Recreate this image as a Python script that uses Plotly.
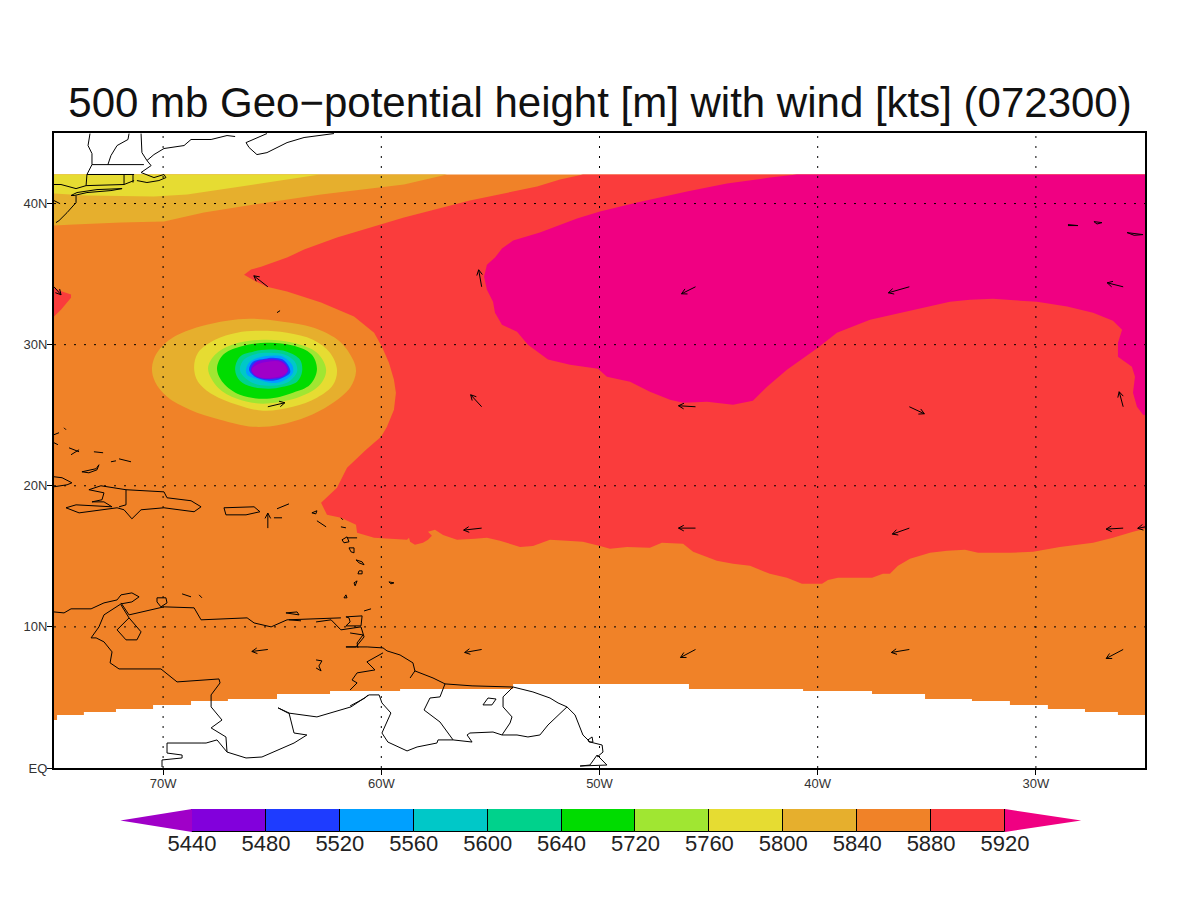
import math
import plotly.graph_objects as go

TITLE = "500 mb Geo\u2212potential height [m] with wind [kts] (072300)"
LON_TICKS = [-70, -60, -50, -40, -30]
LON_LABELS = ["70W", "60W", "50W", "40W", "30W"]
LAT_TICKS = [0, 10, 20, 30, 40]
LAT_LABELS = ["EQ", "10N", "20N", "30N", "40N"]
LEVELS = [5440, 5480, 5520, 5560, 5600, 5640, 5720, 5760, 5800, 5840, 5880, 5920]
BAR_COLORS = ["#8200dc", "#1e3cff", "#00a0ff", "#00c8c8", "#00d28c", "#00dc00",
              "#a0e632", "#e6dc32", "#e6af2d", "#f08228", "#fa3c3c"]
LOW_COLOR = "#a000c8"
HIGH_COLOR = "#f00082"

DATA_TOP = 42.06
EDGE_LON = [-75, -74.86, -73.63, -72.16, -70.46, -68.72, -67.03, -64.78, -62.35, -59.14, -53.96,
            -45.90, -40.67, -37.51, -35.08, -32.93, -31.19, -29.45, -27.75, -26.24, -25]
EDGE_LAT = [3.40, 3.76, 3.97, 4.18, 4.47, 4.75, 4.89, 5.25, 5.46, 5.60, 5.96,
            5.60, 5.46, 5.25, 4.89, 4.75, 4.47, 4.18, 3.97, 3.76]

YELLOW_N = [(-75, 42.06), (-62.81, 42.06), (-64.32, 41.70), (-67.35, 40.99), (-68.9, 40.64),
            (-70.42, 40.50), (-73.49, 40.57), (-75, 40.71)]
GOLD_N = [(-75, 42.06), (-56.99, 42.06), (-58.96, 41.35), (-62.76, 40.64), (-65.83, 39.93),
          (-68.13, 39.36), (-69.96, 38.72), (-71.93, 38.65), (-74.08, 38.51), (-75, 38.44)]
RED_MAIN = [(-50.76, 42.06), (-51.81, 41.70), (-52.86, 41.21), (-53.96, 40.85), (-55.94, 40.21),
            (-58.96, 39.01), (-60.01, 38.51), (-62.03, 37.59), (-63.54, 36.74), (-64.32, 36.17),
            (-65.51, 35.53), (-65.97, 35.32), (-66.29, 34.96), (-65.83, 34.54), (-65.24, 34.11),
            (-64.32, 33.76), (-62.76, 32.98), (-61.25, 31.99), (-60.33, 30.85), (-59.97, 29.86),
            (-59.65, 28.72), (-59.42, 27.52), (-59.33, 26.60), (-59.42, 25.39), (-59.74, 24.18),
            (-60.01, 23.48), (-60.70, 22.55), (-61.57, 21.28), (-62.03, 19.86), (-62.76, 18.79),
            (-62.49, 17.94), (-61.85, 17.73), (-61.16, 17.23), (-61.11, 16.67), (-60.33, 16.31),
            (-58.96, 16.17), (-58.82, 16.17), (-58.73, 16.31), (-58.68, 16.03), (-58.46, 15.82),
            (-58.09, 15.96), (-57.86, 16.17), (-57.68, 16.45), (-57.86, 16.74), (-57.54, 16.88),
            (-57.17, 16.52), (-56.53, 16.17), (-55.71, 16.24), (-55.16, 16.31), (-54.56, 16.10),
            (-53.64, 15.67), (-53.05, 15.74), (-52.27, 16.17), (-51.49, 16.10), (-50.76, 16.03),
            (-49.98, 15.74), (-49.52, 15.53), (-48.74, 15.67), (-47.69, 15.60), (-47.14, 15.96),
            (-46.17, 15.89), (-45.71, 15.32), (-44.62, 14.68), (-43.88, 14.47), (-43.10, 14.33),
            (-42.19, 13.76), (-41.41, 13.48), (-40.72, 13.05), (-39.80, 13.05), (-39.53, 13.33),
            (-39.07, 13.48), (-37.51, 13.48), (-37.01, 13.76), (-36.69, 13.76), (-36.32, 14.33),
            (-35.77, 14.82), (-34.85, 15.25), (-34.07, 15.39), (-33.25, 15.46), (-32.65, 15.25),
            (-31.19, 15.25), (-30.13, 15.32), (-28.90, 15.67), (-27.38, 15.96), (-26.47, 16.31),
            (-25.55, 16.74), (-25, 16.95), (-25, 42.06)]
RED_WEST = [(-75, 34.04), (-74.63, 33.76), (-74.22, 33.55), (-74.22, 33.33), (-74.68, 32.48), (-75, 31.99)]
MAGENTA = [(-40.95, 42.06), (-42.19, 41.84), (-44.16, 41.42), (-45.99, 40.85), (-48.28, 40.07),
           (-49.98, 39.43), (-51.03, 38.94), (-52.73, 37.94), (-53.96, 37.38), (-54.47, 36.81),
           (-54.79, 36.17), (-55.16, 35.67), (-55.29, 34.82), (-55.16, 33.90), (-54.88, 33.05),
           (-54.79, 32.27), (-54.47, 31.42), (-53.78, 30.92), (-53.28, 30.00), (-52.36, 28.94),
           (-51.35, 28.58), (-50.07, 28.30), (-49.66, 27.73), (-48.60, 27.38), (-47.69, 26.67),
           (-46.77, 26.10), (-46.17, 25.89), (-45.07, 25.96), (-43.88, 25.74), (-42.97, 26.03),
           (-42.32, 27.02), (-41.41, 28.23), (-39.99, 29.79), (-39.12, 30.85), (-37.60, 31.77),
           (-33.94, 33.05), (-33.02, 33.19), (-31.97, 33.26), (-30.73, 33.12), (-29.95, 33.05),
           (-28.57, 32.70), (-27.38, 32.27), (-26.47, 31.70), (-26.05, 31.06), (-26.24, 30.14),
           (-26.24, 29.15), (-25.60, 28.44), (-25.46, 27.73), (-25.55, 26.60), (-25.37, 25.60),
           (-25.09, 25.04), (-25, 25.0), (-25, 42.06)]
CYCLONE = [
    ("#e6af2d", [(-70.51, 28.37), (-70.28, 29.43), (-69.55, 30.50), (-68.31, 31.28), (-67.07, 31.70),
                 (-66.02, 31.84), (-64.51, 31.63), (-63.13, 31.21), (-61.89, 30.21), (-61.30, 28.94),
                 (-61.16, 28.09), (-61.43, 26.95), (-62.35, 25.74), (-63.41, 24.89), (-64.64, 24.33),
                 (-65.88, 24.18), (-67.39, 24.68), (-68.77, 25.39), (-69.82, 26.31), (-70.37, 27.38)]),
    ("#e6dc32", [(-68.58, 28.37), (-68.40, 29.43), (-67.62, 30.35), (-66.61, 30.85), (-65.56, 30.99),
                 (-64.32, 30.85), (-63.13, 30.35), (-62.35, 29.43), (-62.03, 28.23), (-62.21, 27.16),
                 (-62.95, 26.24), (-64.05, 25.60), (-65.42, 25.32), (-66.61, 25.74), (-67.71, 26.45),
                 (-68.40, 27.38)]),
    ("#a0e632", [(-67.94, 28.30), (-67.62, 29.29), (-66.84, 30.00), (-65.42, 30.35), (-64.05, 30.14),
                 (-62.95, 29.43), (-62.53, 28.23), (-62.81, 27.16), (-63.73, 26.31), (-65.42, 25.82),
                 (-66.61, 26.17), (-67.48, 26.95)]),
    ("#00dc00", [(-67.53, 28.30), (-67.25, 29.29), (-66.48, 29.86), (-65.24, 30.14), (-63.86, 29.86),
                 (-63.18, 29.29), (-62.95, 28.23), (-63.27, 27.16), (-64.05, 26.60), (-65.24, 26.17),
                 (-66.48, 26.45), (-67.25, 27.30)]),
    ("#00d28c", [(-66.70, 28.23), (-66.48, 29.15), (-65.88, 29.50), (-65.15, 29.65), (-64.32, 29.50),
                 (-63.73, 28.94), (-63.63, 28.09), (-63.86, 27.38), (-64.51, 27.02), (-65.15, 26.88),
                 (-65.93, 27.02), (-66.48, 27.45)]),
    ("#00c8c8", [(-66.48, 28.23), (-66.29, 28.94), (-65.70, 29.36), (-65.10, 29.43), (-64.41, 29.29),
                 (-63.96, 28.79), (-63.86, 28.09), (-64.18, 27.45), (-64.64, 27.16), (-65.19, 27.09),
                 (-65.79, 27.23), (-66.25, 27.66)]),
    ("#00a0ff", [(-66.20, 28.23), (-66.02, 28.79), (-65.47, 29.15), (-65.01, 29.22), (-64.51, 29.15),
                 (-64.09, 28.58), (-64.05, 28.01), (-64.32, 27.59), (-64.78, 27.30), (-65.33, 27.38),
                 (-65.88, 27.66), (-66.15, 27.87)]),
    ("#1e3cff", [(-66.06, 28.23), (-65.88, 28.79), (-65.33, 29.01), (-64.96, 29.08), (-64.51, 28.94),
                 (-64.23, 28.44), (-64.18, 28.01), (-64.51, 27.66), (-64.96, 27.45), (-65.42, 27.52),
                 (-65.79, 27.73)]),
    ("#8200dc", [(-65.97, 28.23), (-65.79, 28.72), (-65.33, 28.94), (-64.87, 28.94), (-64.51, 28.79),
                 (-64.28, 28.37), (-64.28, 28.09), (-64.51, 27.73), (-64.96, 27.59), (-65.42, 27.59),
                 (-65.79, 27.80)]),
    ("#a000c8", [(-65.93, 28.23), (-65.70, 28.58), (-65.19, 28.79), (-64.64, 28.79), (-64.37, 28.44),
                 (-64.32, 28.09), (-64.55, 27.80), (-65.01, 27.66), (-65.47, 27.66), (-65.79, 27.87)]),
]

WIND_LON = [-75, -65.2, -55.4, -45.6, -35.8, -26,
            -65.2, -55.4, -45.6, -35.8, -26,
            -65.2, -55.4, -45.6, -35.8, -26, -24.6,
            -65.2, -55.4, -45.6, -35.8, -26]
WIND_LAT = [34.1, 34.1, 34.1, 34.1, 34.1, 34.1,
            25.6, 25.6, 25.6, 25.6, 25.6,
            17.0, 17.0, 17.0, 17.0, 17.0, 17.2,
            8.4, 8.4, 8.4, 8.4, 8.4]
WIND_U = [7, -14, -3, -14, -21, -16,
          17, -11, -17, 15, -4,
          0, -18, -17, -17, -17, -16,
          -16, -17, -15, -18, -17]
WIND_V = [-8, 11, 17, -7, -6, 4,
          4, 12, 1, -7, 15,
          15, -2, 0, -6, -1, -3,
          -2, -3, -8, -3, -9]

COAST_NE_US = [
    [(-73.35, 44.96), (-73.44, 44.11), (-73.26, 43.54), (-73.26, 42.76), (-73.49, 42.06), (-73.53, 41.27)],
    [(-73.26, 42.76), (-70.88, 42.76)],
    [(-71.56, 44.96), (-71.61, 44.54), (-72.11, 44.11), (-72.39, 43.40), (-72.53, 42.76)],
    [(-71.01, 44.96), (-70.97, 43.61), (-70.74, 43.05)],
    [(-70.74, 43.05), (-70.42, 43.47), (-69.96, 43.90), (-69.04, 44.11), (-68.72, 44.54), (-67.80, 44.54),
     (-67.07, 44.82), (-66.70, 44.75)],
    [(-65.24, 44.96), (-65.70, 44.68), (-66.20, 44.32), (-66.06, 43.97), (-65.70, 43.47), (-65.24, 43.61),
     (-64.32, 44.32), (-63.54, 44.68), (-62.17, 44.96)],
    [(-70.74, 43.05), (-70.55, 42.69), (-71.01, 42.20), (-70.65, 41.98), (-70.42, 41.84), (-69.96, 42.06),
     (-69.87, 41.84), (-70.19, 41.63), (-70.74, 41.49), (-71.20, 41.63)],
    [(-73.53, 41.27), (-71.79, 41.35), (-71.33, 41.63)],
    [(-73.49, 42.06), (-71.33, 42.06)],
    [(-71.79, 42.06), (-71.79, 41.35)],
    [(-71.38, 42.06), (-71.38, 41.49)],
    [(-74.22, 40.57), (-73.95, 40.78), (-73.03, 40.99), (-71.88, 41.06), (-72.39, 40.92), (-73.49, 40.78),
     (-74.08, 40.57), (-74.22, 40.57)],
    [(-75, 41.35), (-74.68, 41.35), (-73.99, 41.06), (-73.53, 41.27)],
    [(-73.99, 40.57), (-73.99, 40.07), (-74.40, 39.36), (-74.77, 38.79), (-74.91, 38.65)],
    [(-75, 40.21), (-74.72, 39.99)],
]
COAST_ATLANTIC = [
    [(-64.78, 32.27), (-64.64, 32.41)],
    [(-28.53, 38.51), (-28.07, 38.44), (-28.53, 38.44)],
    [(-27.34, 38.72), (-26.97, 38.65), (-27.20, 38.55), (-27.34, 38.72)],
    [(-25.82, 37.94), (-25.09, 37.80), (-25.50, 37.75), (-25.82, 37.94)],
]
COAST_ANTILLES = [
    [(-73.72, 20.99), (-73.07, 21.21), (-72.94, 21.49), (-73.03, 21.13), (-73.40, 20.92), (-73.72, 20.99)],
    [(-74.31, 22.69), (-73.85, 22.41)], [(-74.22, 22.20), (-73.85, 22.55)], [(-73.17, 22.41), (-72.75, 22.34)],
    [(-72.02, 21.91), (-71.47, 21.70)], [(-72.39, 21.70), (-72.16, 21.77)], [(-74.54, 24.11), (-74.45, 23.97)],
    [(-75, 23.62), (-74.77, 23.76)], [(-75, 23.05), (-74.82, 22.91)],
    [(-75, 20.64), (-74.63, 20.57), (-74.18, 20.21), (-74.40, 20.07), (-75, 19.93)],
    [(-73.40, 19.72), (-72.85, 20.00), (-71.70, 19.72), (-69.96, 19.57), (-69.82, 19.15), (-68.72, 18.94),
     (-68.26, 18.51), (-68.58, 18.16), (-69.96, 18.44), (-70.55, 18.37), (-71.01, 18.30), (-71.43, 17.66),
     (-71.79, 18.30), (-72.11, 18.44), (-73.85, 18.08), (-74.45, 18.44), (-73.99, 18.65), (-72.34, 18.51),
     (-72.71, 18.86), (-73.26, 18.86), (-72.80, 19.01), (-72.71, 19.50), (-73.40, 19.72)],
    [(-71.70, 19.72), (-71.70, 18.65), (-72.02, 18.51)],
    [(-67.21, 18.44), (-65.83, 18.51), (-65.56, 18.16), (-66.20, 17.94), (-67.12, 17.94), (-67.21, 18.44)],
    [(-64.92, 17.73), (-64.55, 17.73)], [(-64.78, 18.37), (-64.23, 18.72)],
    [(-63.18, 18.08), (-62.95, 18.23), (-63.00, 18.01), (-63.18, 18.08)],
    [(-62.95, 17.52), (-62.53, 17.09)], [(-61.85, 17.73), (-61.76, 17.59)], [(-61.85, 17.09), (-61.62, 17.02)],
    [(-61.80, 16.17), (-61.57, 16.38), (-61.48, 16.03), (-61.71, 15.96), (-61.80, 16.17)],
    [(-61.57, 16.31), (-61.11, 16.31)],
    [(-61.48, 15.60), (-61.25, 15.60), (-61.25, 15.25), (-61.39, 15.32), (-61.48, 15.60)],
    [(-61.16, 14.75), (-60.88, 14.61), (-60.79, 14.40), (-61.02, 14.54), (-61.16, 14.75)],
    [(-61.02, 13.97), (-60.88, 13.97), (-60.88, 13.76), (-61.07, 13.76), (-61.02, 13.97)],
    [(-61.25, 13.12), (-61.11, 13.26), (-61.20, 12.91), (-61.25, 13.12)],
    [(-61.71, 12.06), (-61.62, 12.27), (-61.57, 12.06), (-61.71, 12.06)],
    [(-59.65, 13.19), (-59.42, 13.12), (-59.56, 13.05), (-59.65, 13.19)],
    [(-60.79, 11.13), (-60.47, 11.28)],
    [(-61.62, 10.71), (-60.88, 10.78), (-60.93, 10.07), (-61.62, 10.07), (-61.43, 10.35), (-61.48, 10.64),
     (-61.62, 10.71)],
    [(-69.13, 12.34), (-68.72, 12.13)], [(-68.35, 12.27), (-68.22, 12.06)],
    [(-70.28, 12.06), (-69.87, 12.06), (-69.82, 11.70), (-70.10, 11.42), (-70.28, 11.77), (-70.28, 12.06)],
    [(-64.37, 10.99), (-63.86, 11.06), (-63.77, 10.85), (-64.37, 10.99)], [(-64.23, 10.50), (-63.68, 10.43)],
]
COAST_S_AMERICA = [
    [(-75, 11.06), (-74.54, 10.99), (-74.22, 11.28), (-73.30, 11.28), (-72.71, 11.70), (-72.11, 11.91),
     (-71.93, 12.27), (-71.43, 12.41), (-71.10, 12.13), (-71.43, 11.77), (-71.93, 11.63), (-72.71, 10.85),
     (-72.94, 10.00), (-73.30, 9.22), (-73.07, 9.22), (-72.71, 8.94), (-72.34, 8.23), (-72.43, 7.45),
     (-72.02, 7.02), (-70.10, 7.02), (-69.36, 6.10), (-67.44, 6.31), (-67.39, 6.03), (-67.80, 5.18),
     (-67.80, 4.33), (-67.30, 3.40), (-67.80, 2.84), (-67.12, 2.20), (-67.07, 1.13), (-66.20, 0.71),
     (-65.47, 0.78), (-64.00, 1.77), (-63.41, 2.34), (-64.00, 2.48), (-64.23, 3.90), (-64.73, 4.26),
     (-64.28, 3.90), (-62.95, 3.62), (-61.39, 4.33), (-60.56, 5.18), (-60.10, 5.18), (-59.97, 4.61),
     (-59.56, 3.90), (-59.97, 2.48), (-59.70, 1.84), (-58.82, 1.21), (-58.36, 1.49), (-57.45, 1.77),
     (-57.40, 1.99), (-56.71, 1.99)],
    [(-70.05, 0.07), (-70.05, 0.57), (-69.13, 0.71), (-69.13, 0.92), (-69.82, 1.06), (-69.82, 1.77),
     (-68.22, 1.77), (-68.03, 1.77), (-67.53, 1.99), (-67.07, 1.13)],
    [(-71.93, 11.70), (-71.56, 10.85), (-69.96, 11.42), (-68.58, 11.35), (-68.26, 10.50), (-66.15, 10.64),
     (-65.83, 10.28), (-65.05, 10.00), (-64.32, 10.50), (-61.85, 10.64)],
    [(-71.93, 11.56), (-71.56, 10.64), (-71.01, 9.65), (-71.20, 9.08), (-71.70, 9.08), (-72.11, 9.79), (-71.56, 10.64)],
    [(-62.99, 10.35), (-62.30, 10.50), (-61.85, 9.79), (-60.93, 10.00), (-60.79, 9.29), (-61.16, 8.58),
     (-61.62, 8.58), (-60.65, 8.58), (-59.92, 8.51), (-59.74, 8.30), (-59.14, 8.01), (-58.55, 7.45),
     (-58.46, 6.88), (-58.68, 6.38)],
    [(-58.46, 6.88), (-57.63, 6.38), (-57.17, 6.03), (-57.08, 5.96), (-55.84, 5.82), (-53.96, 5.74),
     (-53.05, 5.39), (-52.27, 4.96), (-51.90, 4.61), (-51.49, 4.33), (-51.12, 3.76), (-50.76, 2.34),
     (-50.43, 1.84), (-49.88, 1.63), (-49.84, 1.13), (-50.11, 0.78)],
    [(-57.08, 5.96), (-57.31, 5.04), (-57.77, 4.96), (-58.04, 4.11), (-57.31, 3.26), (-56.71, 1.99),
     (-55.84, 1.84), (-56.07, 2.34), (-55.94, 2.48), (-54.88, 2.55), (-54.47, 2.34), (-54.10, 3.19),
     (-54.01, 3.62), (-54.42, 4.33), (-54.42, 5.04), (-53.96, 5.74)],
    [(-51.49, 4.33), (-52.36, 3.05), (-52.73, 2.34), (-53.28, 2.20), (-53.78, 2.34), (-54.47, 2.34)],
    [(-61.43, 4.40), (-60.75, 4.96), (-60.61, 5.18)],
    [(-61.43, 5.53), (-61.11, 6.03), (-61.34, 6.24), (-61.11, 6.74), (-60.29, 6.95), (-60.66, 7.52), (-59.92, 8.16)],
    [(-61.43, 9.57), (-60.84, 9.43), (-61.11, 8.86), (-61.07, 8.51)],
    [(-50.89, 0.14), (-50.44, 0.21), (-50.11, 0.92), (-49.66, 0.21), (-50.89, 0.14)],
    [(-50.53, 1.99), (-50.34, 2.20), (-50.30, 1.84), (-50.48, 1.84), (-50.53, 1.99)],
    [(-55.34, 4.47), (-55.11, 4.96), (-54.74, 4.89), (-54.93, 4.47), (-55.34, 4.47)],
    [(-62.99, 7.66), (-62.72, 7.59), (-62.86, 7.23), (-62.76, 6.88), (-62.99, 7.09)],
]

PX_PER_LON = 1091 / 50
PX_PER_LAT = 635 / 45
HEAD_PX = 6
HEAD_ANGLE = math.radians(28)

fig = go.Figure()


def fill(points, color, smooth=False):
    line = dict(width=0, color=color)
    if smooth:
        points = points + points[:1]
        line.update(shape="spline", smoothing=1)
    fig.add_trace(go.Scatter(x=[p[0] for p in points], y=[p[1] for p in points], mode="lines",
                             fill="toself", fillcolor=color, line=line,
                             hoverinfo="skip", showlegend=False))


def polylines(segments, width=1):
    xs, ys = [], []
    for seg in segments:
        xs += [p[0] for p in seg] + [None]
        ys += [p[1] for p in seg] + [None]
    fig.add_trace(go.Scatter(x=xs, y=ys, mode="lines", line=dict(color="black", width=width),
                             hoverinfo="skip", showlegend=False))


stairs = []
for i, level in enumerate(EDGE_LAT):
    stairs += [(EDGE_LON[i], level), (EDGE_LON[i + 1], level)]
fill([(-25, DATA_TOP), (-75, DATA_TOP)] + stairs, "#f08228")
fill(GOLD_N, "#e6af2d")
fill(YELLOW_N, "#e6dc32")
fill(RED_MAIN, "#fa3c3c")
fill(RED_WEST, "#fa3c3c")
fill(MAGENTA, HIGH_COLOR)
for color, ring in CYCLONE:
    fill(ring, color, smooth=True)

for segs in (COAST_NE_US, COAST_ATLANTIC, COAST_ANTILLES, COAST_S_AMERICA):
    polylines(segs)

grid_x, grid_y = [], []
for lon in LON_TICKS:
    grid_x += [lon, lon, None]
    grid_y += [0, 45, None]
for lat in LAT_TICKS[1:]:
    grid_x += [-75, -25, None]
    grid_y += [lat, lat, None]
fig.add_trace(go.Scatter(x=grid_x, y=grid_y, mode="lines",
                         line=dict(color="black", width=1, dash="2px,8px"),
                         hoverinfo="skip", showlegend=False))

arrows = []
for lon, lat, u, v in zip(WIND_LON, WIND_LAT, WIND_U, WIND_V):
    tip = (lon + u / PX_PER_LON, lat + v / PX_PER_LAT)
    ang = math.atan2(v, u)
    barbs = []
    for sign in (1, -1):
        a = ang + math.pi + sign * HEAD_ANGLE
        barbs.append((tip[0] + HEAD_PX * math.cos(a) / PX_PER_LON, tip[1] + HEAD_PX * math.sin(a) / PX_PER_LAT))
    arrows.append([(lon, lat), tip])
    arrows.append([barbs[0], tip, barbs[1]])
polylines(arrows)

# colour key
n = len(BAR_COLORS)
fig.add_trace(go.Bar(x=[i + 0.5 for i in range(n)], y=[1] * n, width=[1] * n, xaxis="x2", yaxis="y2",
                     marker=dict(color=BAR_COLORS, line=dict(color="black", width=1)),
                     hoverinfo="skip", showlegend=False))
fig.add_trace(go.Scatter(x=[0, -0.97, 0, 0], y=[0, 0.5, 1, 0], xaxis="x2", yaxis="y2", mode="lines", fill="toself",
                         fillcolor=LOW_COLOR, line=dict(width=0), hoverinfo="skip", showlegend=False))
fig.add_trace(go.Scatter(x=[n, n + 1.03, n, n], y=[0, 0.5, 1, 0], xaxis="x2", yaxis="y2", mode="lines", fill="toself",
                         fillcolor=HIGH_COLOR, line=dict(width=0), hoverinfo="skip", showlegend=False))

FONT = "Liberation Sans"
# the page body adds an 8 px offset; the domains below are set so the frame lands at x 54-1145, y 133-768
fig.update_layout(
    width=1200, height=900, paper_bgcolor="white", plot_bgcolor="white",
    margin=dict(l=0, r=0, t=0, b=0, autoexpand=False), showlegend=False, bargap=0,
    title=dict(text=TITLE, x=592 / 1200, xanchor="center", y=1 - 94 / 900, yanchor="middle",
               font=dict(family=FONT, size=42, color="#111")),
    xaxis=dict(range=[-75, -25], domain=[46 / 1200, 1137 / 1200], tickvals=LON_TICKS, ticktext=LON_LABELS,
               ticks="outside", ticklen=5, tickcolor="black", showgrid=False, zeroline=False, showline=True,
               ticklabelstandoff=-3,
               linecolor="black", linewidth=2, mirror=True, tickfont=dict(family=FONT, size=13, color="#333")),
    yaxis=dict(range=[0, 45], domain=[140 / 900, 775 / 900], tickvals=LAT_TICKS, ticktext=LAT_LABELS,
               ticks="outside", ticklen=5, tickcolor="black", showgrid=False, zeroline=False, showline=True,
               ticklabelstandoff=-3,
               linecolor="black", linewidth=2, mirror=True, tickfont=dict(family=FONT, size=13, color="#333")),
    xaxis2=dict(anchor="y2", domain=[102 / 1200, 1082 / 1200], range=[-1.11, 12.15], tickvals=list(range(len(LEVELS))),
                ticktext=[str(v) for v in LEVELS], ticks="", showgrid=False, zeroline=False, showline=False,
                ticklabelstandoff=-4,
                tickfont=dict(family=FONT, size=22, color="#222")),
    yaxis2=dict(anchor="x2", domain=[76 / 900, 99 / 900], range=[0, 1], showticklabels=False, ticks="",
                showgrid=False, zeroline=False, showline=False),
)
fig.write_html("out.html")
